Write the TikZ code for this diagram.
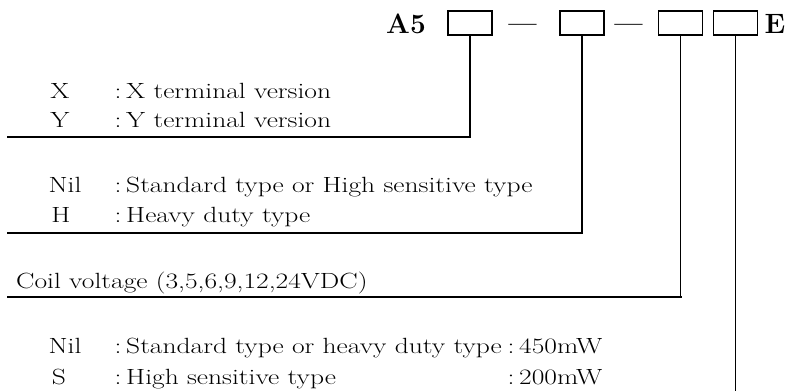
\documentclass[tikz,border=0pt]{standalone}
\usepackage{fontspec}
\usepackage{graphicx}
\newcommand{\wx}[1]{\scalebox{1.25}[1]{#1}}
\begin{document}
\begin{tikzpicture}[x=1pt,y=-1pt,
  body/.style={inner sep=0pt, anchor=base west, font=\fontsize{22}{26}\selectfont},
  label/.style={inner sep=0pt, anchor=base, font=\fontsize{22}{26}\selectfont},
  colon/.style={inner sep=0pt, anchor=base, font=\fontsize{22}{26}\selectfont},
  dashmark/.style={inner sep=0pt, anchor=base, font=\fontsize{28}{32}\selectfont\bfseries},
  title/.style={inner sep=0pt, anchor=base west, font=\fontsize{28}{32}\selectfont\bfseries},
  codebox/.style={draw, line width=1.3pt, minimum width=44pt, minimum height=24pt, inner sep=0pt},
  vline/.style={line width=1.3pt},
  hline/.style={line width=2pt, line cap=rect}]
\useasboundingbox (0,0) rectangle (786,391);
% title row
\node[title] (a5) at (386,33) {A5};
\node[codebox] (b1) at (470,23) {};
\node[dashmark] (d1) at (522.5,32) {\scalebox{0.9}[1]{---}};
\node[codebox] (b2) at (582,23) {};
\node[dashmark] (d2) at (628.5,32) {\scalebox{0.9}[1]{---}};
\node[codebox] (b3) at (680.5,23) {};
\node[codebox] (b4) at (735.5,23) {};
\node[title] (e) at (764.5,33) {E};
% connectors
\coordinate (k1) at (470,137);   \coordinate (e1) at (8,137);
\coordinate (k2) at (582,233);   \coordinate (e2) at (8,233);
\coordinate (k3) at (680.5,297); \coordinate (e3) at (8,297);
\coordinate (k4) at (735.5,391);
\draw[vline] (b1.south) -- (k1);
\draw[hline] (k1) -- (e1);
\draw[vline] (b2.south) -- (k2);
\draw[hline] (k2) -- (e2);
\draw[vline] (b3.south) -- (k3);
\draw[hline] (k3) -- (e3);
\draw[vline] (b4.south) -- (k4);
% group 1
\node[label] (x1) at (60,98) {\wx{X}};
\node[colon] (x1c) at (118,98) {\wx{:}};
\node[body] (x1t) at (126,98) {\wx{X terminal version}};
\node[label] (y1) at (60,127) {\wx{Y}};
\node[colon] (y1c) at (118,127) {\wx{:}};
\node[body] (y1t) at (126,127) {\wx{Y terminal version}};
% group 2
\node[label] (n2) at (65,192) {\wx{Nil}};
\node[colon] (n2c) at (118,192) {\wx{:}};
\node[body] (n2t) at (126,192) {\wx{Standard type or High sensitive type}};
\node[label] (h2) at (61,222) {\wx{H}};
\node[colon] (h2c) at (118,222) {\wx{:}};
\node[body] (h2t) at (126,222) {\wx{Heavy duty type}};
% group 3
\node[body] (c3) at (16,288) {\wx{Coil voltage (3,5,6,9,12,24VDC)}};
% group 4
\node[label] (n4) at (65,353) {\wx{Nil}};
\node[colon] (n4c) at (118,353) {\wx{:}};
\node[body] (n4t) at (126,353) {\wx{Standard type or heavy duty type}};
\node[colon] (n4d) at (511,353) {\wx{:}};
\node[body] (n4v) at (519,353) {\wx{450mW}};
\node[label] (s4) at (59,384) {\wx{S}};
\node[colon] (s4c) at (118,384) {\wx{:}};
\node[body] (s4t) at (126,384) {\wx{High sensitive type}};
\node[colon] (s4d) at (511,384) {\wx{:}};
\node[body] (s4v) at (519,384) {\wx{200mW}};
\end{tikzpicture}
\end{document}
